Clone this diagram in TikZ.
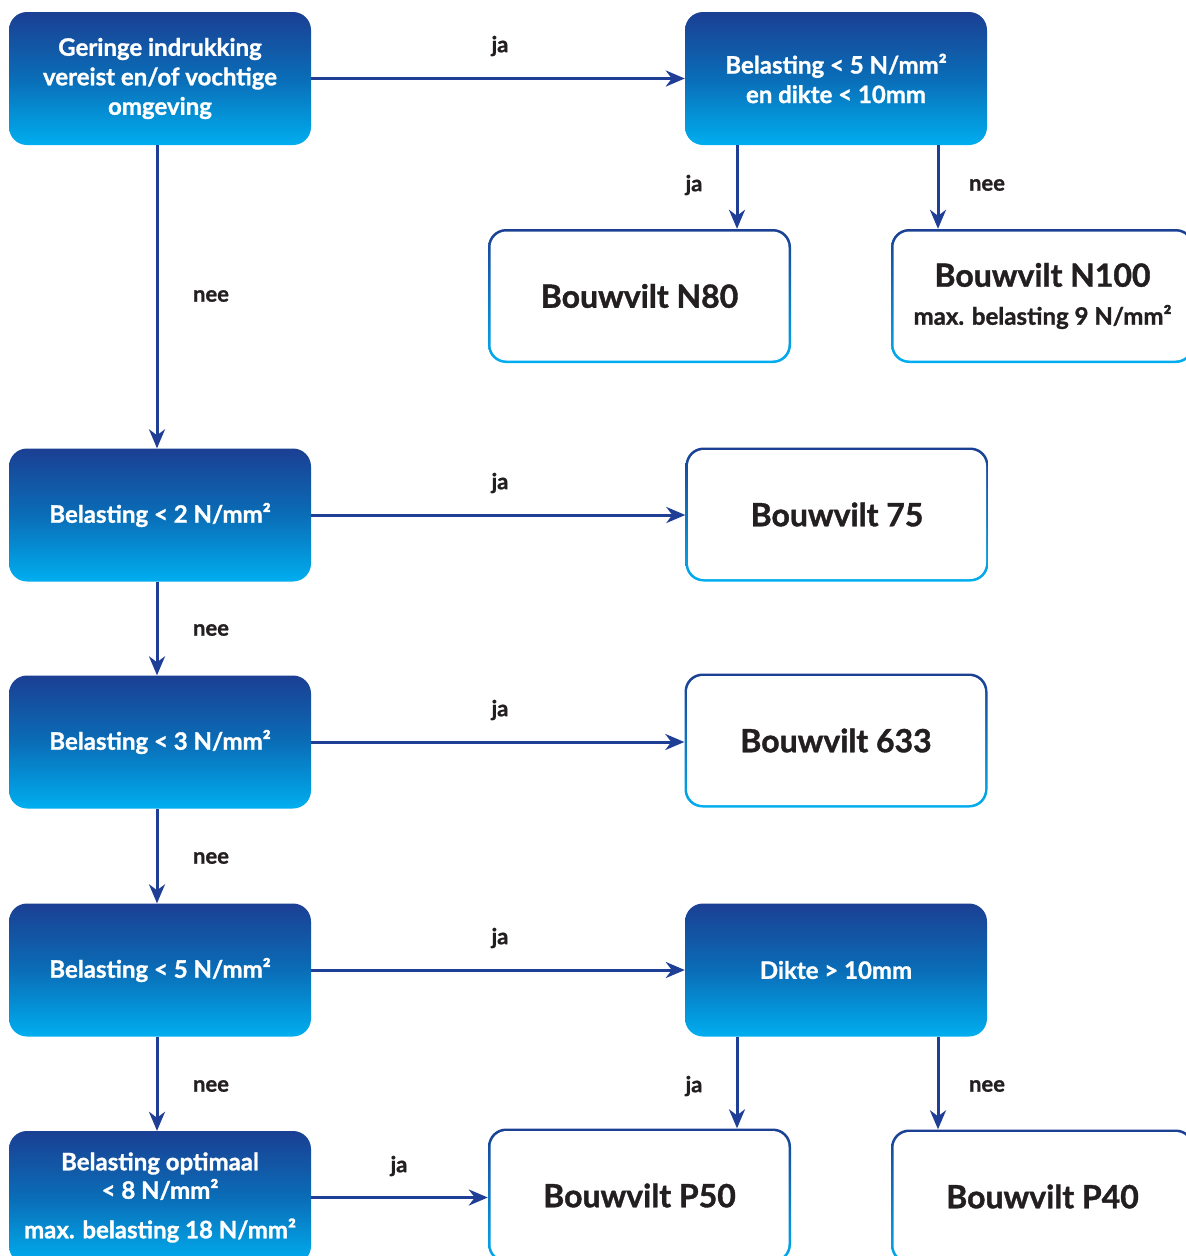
\documentclass[tikz,border=0pt]{standalone}
\usepackage{fontspec}
\setmainfont{Lato}[BoldFeatures={FakeBold=1.2}]
\usetikzlibrary{arrows.meta}
\definecolor{dblue}{HTML}{1B3F93}
\definecolor{cyanb}{HTML}{00AEEF}
\definecolor{midb}{HTML}{0A6DB7}
\definecolor{arrowc}{HTML}{1F3E96}
\definecolor{txt}{HTML}{231F20}
\tikzset{
 qbox/.style={rounded corners=18pt, minimum width=302pt, minimum height=133pt, inner sep=0pt,
   top color=dblue, bottom color=cyanb, middle color=midb, text=white,
   font=\bfseries\fontsize{24}{29.5}\selectfont, align=center},
 rbox/.style={rounded corners=18pt, minimum width=303pt, minimum height=134pt, inner sep=0pt,
   top color=dblue, bottom color=cyanb, text=txt,
   font=\bfseries\fontsize{32}{38}\selectfont, align=center,
   path picture={\fill[white,rounded corners=16pt]
     ([shift={(2.5pt,-2.5pt)}]path picture bounding box.north west) rectangle
     ([shift={(-2.5pt,2.5pt)}]path picture bounding box.south east);}},
 arr/.style={draw=arrowc, line width=3pt, -{Stealth[length=19pt,width=16pt,inset=6pt]}},
 lbl/.style={text=txt, font=\bfseries\fontsize{22}{26}\selectfont, inner sep=0pt},
}
\begin{document}
\begin{tikzpicture}[x=1pt,y=-1pt]
\useasboundingbox (0,0) rectangle (1186,1256);
\clip (0,0) rectangle (1186,1256);
\fill[white] (0,0) rectangle (1186,1256);

\node[qbox] (A) at (160,78.5) {Geringe indrukking\\vereist en/of vochtige\\omgeving};
\node[qbox] (B) at (836,78.5) {Belasting < 5 N/mm²\\en dikte < 10mm};
\node[rbox] (N80) at (639.5,296) {Bouwvilt N80};
\node[rbox] (N100) at (1042.5,296) {Bouwvilt N100\\[0pt]{\fontsize{24}{26}\selectfont max. belasting 9 N/mm²}};
\node[qbox] (B2) at (160,515) {Belasting < 2 N/mm²};
\node[rbox] (B75) at (837,514.5) {Bouwvilt 75};
\node[qbox] (B3) at (160,742) {Belasting < 3 N/mm²};
\node[rbox] (B633) at (836,740.5) {Bouwvilt 633};
\node[qbox] (B5) at (160,970) {Belasting < 5 N/mm²};
\node[qbox] (D) at (836,970) {Dikte > 10mm};
\node[qbox] (O) at (160,1197.5) {Belasting optimaal\\[-1pt]< 8 N/mm²\\[10pt]max. belasting 18 N/mm²};
\node[rbox] (P50) at (639.5,1195.5) {Bouwvilt P50};
\node[rbox] (P40) at (1042.5,1196.5) {Bouwvilt P40};

\coordinate (xa) at (157,0);
\coordinate (xl) at (737,0);
\coordinate (xr) at (938,0);

\draw[arr] (A.east) -- (A.east -| B.west);
\draw[arr] (A.south -| xa) -- (B2.north -| xa);
\draw[arr] (B.south -| xl) -- (N80.north -| xl);
\draw[arr] (B.south -| xr) -- (N100.north -| xr);
\draw[arr] (B2.east) -- (B2.east -| B75.west);
\draw[arr] (B2.south -| xa) -- (B3.north -| xa);
\draw[arr] (B3.east) -- (B3.east -| B633.west);
\draw[arr] (B3.south -| xa) -- (B5.north -| xa);
\draw[arr] (B5.east) -- (B5.east -| D.west);
\draw[arr] (B5.south -| xa) -- (O.north -| xa);
\draw[arr] (D.south -| xl) -- (P50.north -| xl);
\draw[arr] (D.south -| xr) -- (P40.north -| xr);
\draw[arr] (O.east) -- (O.east -| P50.west);

\node[lbl] (l1) at (500,46) {ja};
\node[lbl] (l2) at (211,296) {nee};
\node[lbl] (l3) at (694,185) {ja};
\node[lbl] (l4) at (987,185) {nee};
\node[lbl] (l5) at (500,483) {ja};
\node[lbl] (l6) at (211,630) {nee};
\node[lbl] (l7) at (500,710) {ja};
\node[lbl] (l8) at (211,858) {nee};
\node[lbl] (l9) at (500,938) {ja};
\node[lbl] (l10) at (211,1086) {nee};
\node[lbl] (l11) at (694,1086) {ja};
\node[lbl] (l12) at (987,1086) {nee};
\node[lbl] (l13) at (399,1166) {ja};
\end{tikzpicture}
\end{document}
